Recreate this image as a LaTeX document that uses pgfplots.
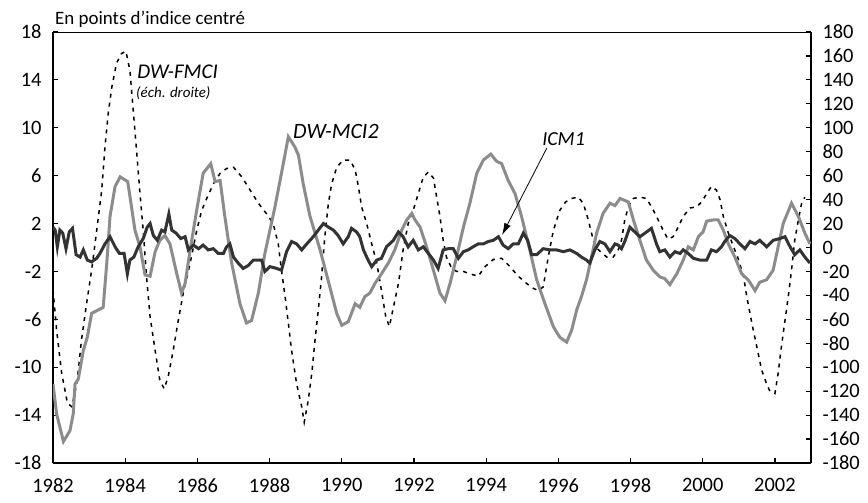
\documentclass[border=0pt]{standalone}
\usepackage{fontspec}
\setmainfont{Carlito}
\usepackage{pgfplots}
\pgfplotsset{compat=1.18}
\usetikzlibrary{arrows.meta}

\definecolor{mcigray}{HTML}{8C8C8C}
\definecolor{icmdark}{HTML}{333333}

% DW-FMCI, right-hand scale
\pgfplotstableread{
year val
1982.00 -35
1982.10 -69
1982.24 -105
1982.40 -130
1982.52 -133
1982.66 -114
1982.79 -77
1982.93 -47
1983.07 -19
1983.21 14
1983.35 48
1983.44 84
1983.53 112
1983.63 134
1983.76 154
1983.90 162
1984.02 164
1984.13 148
1984.23 112
1984.32 79
1984.41 45
1984.50 14
1984.59 -24
1984.69 -58
1984.83 -86
1984.96 -111
1985.08 -118
1985.19 -108
1985.33 -86
1985.47 -61
1985.61 -38
1985.80 -13
1985.98 14
1986.12 31
1986.26 41
1986.44 53
1986.63 62
1986.81 66
1987.00 67
1987.23 59
1987.46 48
1987.69 37
1987.92 28
1988.10 20
1988.24 3
1988.33 -19
1988.43 -41
1988.52 -63
1988.61 -86
1988.75 -114
1988.89 -133
1988.96 -146
1989.07 -128
1989.17 -105
1989.26 -77
1989.35 -52
1989.44 -25
1989.53 9
1989.63 37
1989.72 53
1989.86 67
1990.04 73
1990.23 73
1990.37 65
1990.46 51
1990.55 34
1990.69 20
1990.83 3
1990.97 -13
1991.10 -36
1991.22 -58
1991.32 -66
1991.43 -50
1991.57 -30
1991.70 -2
1991.84 20
1991.98 31
1992.12 45
1992.26 59
1992.40 63
1992.54 58
1992.63 42
1992.72 26
1992.81 6
1992.90 -8
1993.04 -17
1993.18 -20
1993.37 -20
1993.55 -22
1993.78 -24
1993.97 -16
1994.20 -10
1994.43 -9
1994.66 -16
1994.89 -24
1995.12 -30
1995.30 -34
1995.44 -36
1995.58 -33
1995.72 -8
1995.86 14
1996.04 31
1996.20 38
1996.37 41
1996.55 42
1996.69 37
1996.83 23
1996.92 12
1997.01 1
1997.15 -3
1997.34 -8
1997.52 -8
1997.66 -2
1997.75 6
1997.84 23
1997.94 34
1998.08 41
1998.26 42
1998.44 41
1998.58 34
1998.72 26
1998.91 14
1999.04 7
1999.18 9
1999.32 17
1999.46 26
1999.65 33
1999.83 34
1999.97 38
2000.11 45
2000.24 51
2000.38 48
2000.48 40
2000.57 26
2000.71 12
2000.85 1
2000.99 -10
2001.13 -24
2001.22 -41
2001.36 -63
2001.52 -86
2001.63 -102
2001.77 -114
2001.86 -120
2002.00 -122
2002.09 -105
2002.18 -83
2002.27 -63
2002.37 -41
2002.46 -19
2002.55 6
2002.65 23
2002.74 37
2002.83 42
}\fmci

% DW-MCI2, left-hand scale
\pgfplotstableread{
year val
1982.00 -11.4
1982.10 -13.9
1982.29 -16.2
1982.47 -15.3
1982.56 -13.9
1982.61 -11.4
1982.70 -11.0
1982.84 -8.6
1982.95 -7.5
1983.07 -5.5
1983.39 -5.0
1983.49 -1.3
1983.58 2.6
1983.72 5.1
1983.86 5.9
1984.07 5.5
1984.16 3.7
1984.27 1.45
1984.41 0.06
1984.55 -2.3
1984.69 -2.4
1984.83 -0.35
1984.96 0.6
1985.10 1.0
1985.24 0.3
1985.43 -2.2
1985.56 -3.8
1985.66 -3.0
1985.80 -0.2
1985.98 3.1
1986.16 6.2
1986.37 7.0
1986.49 5.5
1986.63 5.6
1986.76 2.6
1986.95 -1.3
1987.18 -4.7
1987.36 -6.3
1987.50 -6.1
1987.69 -3.8
1987.87 -0.5
1988.01 1.45
1988.15 3.4
1988.38 7.0
1988.52 9.25
1988.70 8.4
1988.80 7.7
1988.93 5.35
1989.12 2.6
1989.40 -0.2
1989.67 -3.3
1989.86 -5.5
1990.00 -6.5
1990.18 -6.2
1990.37 -4.7
1990.50 -5.0
1990.64 -4.1
1990.78 -3.8
1990.92 -3.0
1991.10 -2.2
1991.29 -1.3
1991.47 -0.2
1991.66 1.45
1991.80 2.3
1991.94 2.85
1992.03 2.3
1992.17 1.7
1992.35 0.06
1992.54 -1.9
1992.72 -3.8
1992.86 -4.45
1993.00 -3.0
1993.18 -0.8
1993.37 1.7
1993.55 3.7
1993.74 6.2
1993.92 7.3
1994.13 7.8
1994.29 7.2
1994.43 7.0
1994.61 5.6
1994.80 4.5
1994.98 2.6
1995.21 -0.2
1995.40 -2.7
1995.63 -4.7
1995.86 -6.6
1996.04 -7.5
1996.23 -7.9
1996.37 -6.9
1996.51 -5.2
1996.64 -4.1
1996.78 -2.7
1996.92 -0.8
1997.06 1.2
1997.24 2.85
1997.43 3.7
1997.57 3.5
1997.71 4.1
1997.94 3.8
1998.08 2.3
1998.26 0.6
1998.44 -1.05
1998.63 -1.9
1998.81 -2.45
1998.95 -2.6
1999.09 -3.1
1999.28 -2.2
1999.46 -1.05
1999.60 0.06
1999.74 -0.2
1999.88 0.9
2000.01 1.3
2000.11 2.2
2000.29 2.3
2000.43 2.3
2000.57 1.45
2000.71 0.3
2000.89 -0.8
2001.08 -2.2
2001.26 -2.7
2001.45 -3.6
2001.58 -2.9
2001.77 -2.7
2001.95 -1.9
2002.09 0.06
2002.23 2.0
2002.46 3.7
2002.65 2.6
2002.83 1.2
2002.97 0.3
}\mcitwo

% ICM1, left-hand scale
\pgfplotstableread{
year val
1982.00 1.7
1982.06 1.45
1982.12 0.06
1982.19 1.45
1982.27 1.2
1982.36 -0.1
1982.45 1.3
1982.54 1.6
1982.64 -0.6
1982.75 -0.8
1982.84 -0.2
1982.95 -1.05
1983.07 -1.2
1983.21 -0.9
1983.30 -0.5
1983.44 0.3
1983.58 0.9
1983.72 0.06
1983.84 -0.5
1983.97 -0.5
1984.06 -2.2
1984.13 -1.05
1984.24 -0.8
1984.36 0.06
1984.50 0.75
1984.61 1.7
1984.69 2.0
1984.78 1.0
1984.89 0.6
1985.01 1.45
1985.10 1.3
1985.21 2.8
1985.29 1.45
1985.41 1.2
1985.54 0.75
1985.66 0.9
1985.75 -0.2
1985.89 0.2
1986.03 -0.1
1986.16 0.2
1986.30 -0.2
1986.44 -0.1
1986.58 -0.5
1986.72 -0.5
1986.81 0.06
1986.90 0.3
1987.00 -0.8
1987.13 -1.3
1987.27 -1.75
1987.41 -1.5
1987.55 -1.05
1987.78 -1.05
1987.87 -2.0
1988.01 -1.6
1988.20 -1.75
1988.33 -1.9
1988.47 -0.35
1988.61 0.5
1988.75 0.3
1988.89 -0.2
1989.03 0.3
1989.21 0.9
1989.35 1.45
1989.49 2.0
1989.63 1.7
1989.77 1.45
1989.90 1.0
1990.04 0.3
1990.18 0.9
1990.27 1.6
1990.41 1.3
1990.50 0.9
1990.60 -0.2
1990.73 -1.05
1990.83 -1.6
1990.97 -1.05
1991.10 -0.9
1991.24 0.06
1991.43 0.6
1991.57 1.3
1991.70 0.9
1991.84 0.06
1991.98 0.6
1992.12 -0.2
1992.26 0.06
1992.40 -0.5
1992.54 -1.05
1992.67 -1.75
1992.81 -0.2
1992.95 -0.1
1993.09 -0.1
1993.23 -0.9
1993.37 -0.35
1993.50 -0.2
1993.64 0.06
1993.78 0.3
1993.92 0.3
1994.06 0.5
1994.20 0.6
1994.34 0.9
1994.47 0.2
1994.61 -0.1
1994.75 0.3
1994.89 0.3
1995.03 1.2
1995.15 0.6
1995.26 -0.6
1995.40 -0.6
1995.58 -0.1
1995.77 -0.2
1995.95 -0.2
1996.14 -0.35
1996.32 -0.2
1996.51 -0.5
1996.64 -0.8
1996.78 -1.05
1996.87 -1.3
1997.01 -0.2
1997.15 0.5
1997.29 0.3
1997.43 -0.35
1997.57 0.3
1997.66 0.2
1997.75 -0.1
1997.84 0.5
1997.98 1.7
1998.12 1.3
1998.26 0.9
1998.40 1.2
1998.58 1.6
1998.72 0.3
1998.81 -0.35
1998.95 -0.2
1999.09 -0.8
1999.23 -0.35
1999.37 -0.5
1999.46 -0.2
1999.60 -0.5
1999.74 -0.9
1999.92 -1.05
2000.11 -1.05
2000.24 -0.2
2000.38 -0.35
2000.52 0.06
2000.61 0.5
2000.75 1.0
2000.89 0.75
2001.03 0.3
2001.17 -0.1
2001.31 0.5
2001.45 0.3
2001.58 0.6
2001.77 0.06
2001.95 0.6
2002.14 0.75
2002.28 0.9
2002.42 0.06
2002.55 -0.6
2002.69 -0.2
2002.83 -0.8
2002.97 -1.3
}\icmone

\pgfplotsset{
  base/.style={
    scale only axis, width=758bp, height=431bp,
    xmin=1982, xmax=2003,
    tick align=inside, major tick length=5bp,
    tick style={black, line width=1.2bp},
    tick label style={font=\fontsize{20.5}{20.5}\selectfont},
    axis line style={-, line width=1.8bp},
  }
}

\begin{document}
\begin{tikzpicture}
% right axis (DW-FMCI)
\begin{axis}[base,
  ymin=-180, ymax=180,
  axis y line*=right, axis x line*=top,
  xtick=\empty,
  x axis line style={line width=0.8bp},
  ytick={-180,-160,...,180},
  yticklabels={-180,-160,-140,-120,-100,-80,-60,-40,-20,0,20,40,60,80,100,120,140,160,180},
  yticklabel style={xshift=8bp},
]
\addplot[black, line width=1.5bp, dash pattern=on 4bp off 5bp] table[x=year, y=val] {\fmci};
\end{axis}

% left axis (DW-MCI2, ICM1)
\begin{axis}[base, name=main,
  ymin=-18, ymax=18,
  axis y line*=left, axis x line*=bottom,
  xtick={1982,1984,1986,1988,1990,1992,1994,1996,1998,2000,2002},
  xticklabels={1982,1984,1986,1988,1990,1992,1994,1996,1998,2000,2002},
  xticklabel style={yshift=-12bp},
  ytick={-18,-14,-10,-6,-2,2,6,10,14,18},
  yticklabels={-18,-14,-10,-6,-2,2,6,10,14,18},
  yticklabel style={xshift=-8bp},
]
\addplot[mcigray, line width=3bp] table[x=year, y=val] {\mcitwo};
\addplot[icmdark, line width=3bp] table[x=year, y=val] {\icmone};

\node[anchor=west, inner sep=0, font=\fontsize{21}{25}\selectfont\itshape] at (axis cs:1984.33,14.7) {DW-FMCI};
\node[anchor=west, inner sep=0, font=\fontsize{15}{18}\selectfont\itshape] at (axis cs:1984.30,12.9) {(éch. droite)};
\node[anchor=west, inner sep=0, font=\fontsize{22}{26}\selectfont\itshape] at (axis cs:1988.65,9.73) {DW-MCI2};
\node[anchor=west, inner sep=0, font=\fontsize{20}{24}\selectfont\itshape] at (axis cs:1995.55,9.06) {ICM1};
\draw[-{Latex[length=12bp,width=7bp]}, line width=0.8bp] (axis cs:1995.68,8.3) -- (axis cs:1994.44,1.04);
\end{axis}

\node[anchor=base west, inner sep=0, xshift=2bp, yshift=7bp, font=\fontsize{19}{22}\selectfont] at (main.north west) {En points d’indice centré};

\pgfresetboundingbox
\path[use as bounding box] ([shift={(-53bp,-40bp)}]main.south west) rectangle ([shift={(57bp,32bp)}]main.north east);
\end{tikzpicture}
\end{document}
